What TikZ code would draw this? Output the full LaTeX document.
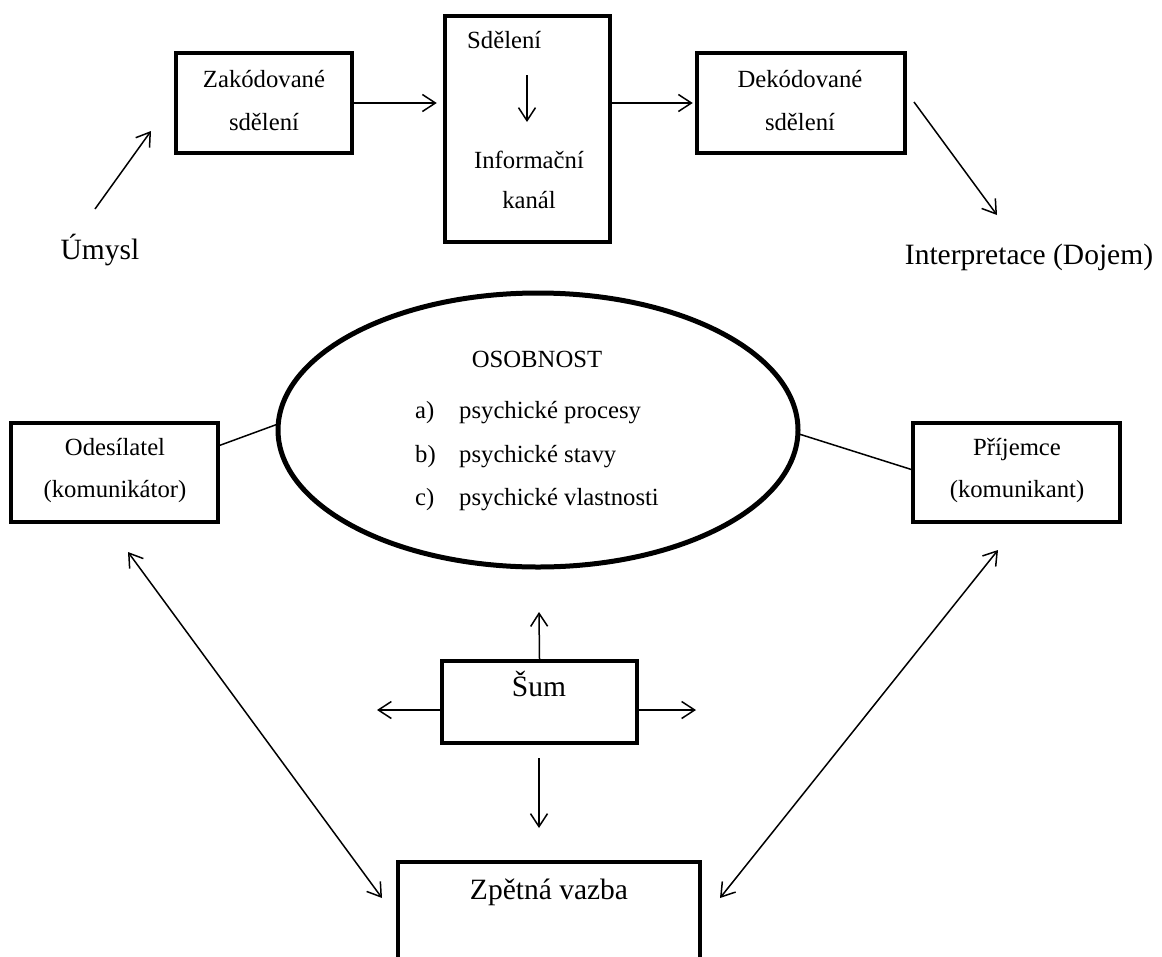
\documentclass[tikz,border=0pt]{standalone}
\usepackage{fontspec}
\setmainfont{Liberation Serif}
\usetikzlibrary{arrows.meta,shapes.geometric,calc}
\begin{document}
\begin{tikzpicture}[x=1pt,y=-1pt,
  box/.style={draw,line width=4.5pt,rectangle,inner sep=0pt,anchor=center},
  oval/.style={draw,line width=5pt,ellipse,inner sep=0pt,anchor=center},
  sm/.style={font=\fontsize{24.7}{30}\selectfont,inner sep=0pt,text height=17pt,text depth=6pt},
  bg/.style={font=\fontsize{29.5}{36}\selectfont,inner sep=0pt,text height=20pt,text depth=7pt},
  tip/.style={Straight Barb[length=13pt,width=17pt]},
  arr/.style={line width=1.5pt,-{Straight Barb[length=13pt,width=17pt]}},
  darr/.style={line width=1.5pt,{Straight Barb[length=13pt,width=17pt]}-{Straight Barb[length=13pt,width=17pt]}},
  ln/.style={line width=1.5pt}]
\useasboundingbox (0,0) rectangle (1162,956);
\clip (0,0) rectangle (1162,956);
\fill[white] (0,0) rectangle (1162,956);

% top row
\node[box,minimum width=176pt,minimum height=100pt] (zak) at (264,103) {};
\node[sm] (zak1) at (264,82) {Zakódované};
\node[sm] (zak2) at (264,125) {sdělení};

\node[box,minimum width=165pt,minimum height=226pt] (sd) at (527.5,129) {};
\node[sm,anchor=west] (sd1) at (467,43) {Sdělení};
\node[sm] (sd2) at (529,163) {Informační};
\node[sm] (sd3) at (529,203) {kanál};
\coordinate (sdA) at (527,75);
\coordinate (sdB) at (527,122);

\node[box,minimum width=208pt,minimum height=100pt] (dek) at (801,103) {};
\node[sm] (dek1) at (800,82) {Dekódované};
\node[sm] (dek2) at (800,125) {sdělení};

\node[bg] (umysl) at (100,253) {Úmysl};
\node[bg] (interp) at (1029,258) {Interpretace (Dojem)};

\coordinate (uA) at (95,209);
\coordinate (uB) at (151,131);
\coordinate (iA) at (914,102);
\coordinate (iB) at (997,215);

% middle
\node[oval,minimum width=520pt,minimum height=274pt] (os) at (538,430) {};
\node[sm] (os0) at (537,362) {OSOBNOST};
\node[sm,anchor=west] (osa) at (415,413) {a)};
\node[sm,anchor=west] (osa2) at (459,413) {psychické procesy};
\node[sm,anchor=west] (osb) at (415,457) {b)};
\node[sm,anchor=west] (osb2) at (459,457) {psychické stavy};
\node[sm,anchor=west] (osc) at (415,500) {c)};
\node[sm,anchor=west] (osc2) at (459,500) {psychické vlastnosti};

\node[box,minimum width=207pt,minimum height=99pt] (od) at (114.5,472.5) {};
\node[sm] (od1) at (115,450) {Odesílatel};
\node[sm] (od2) at (115,492) {(komunikátor)};

\node[box,minimum width=207pt,minimum height=99pt] (pr) at (1016.5,472.5) {};
\node[sm] (pr1) at (1017,450) {Příjemce};
\node[sm] (pr2) at (1017,492) {(komunikant)};

\coordinate (odL) at (218,446);
\coordinate (osL) at (278,424);
\coordinate (osR) at (799,434);
\coordinate (prL) at (913,470);

% bottom
\node[box,minimum width=195pt,minimum height=82pt] (sum) at (539.5,702) {};
\node[bg] (sum1) at (539,690) {Šum};
\coordinate (sumU) at (539,612);
\coordinate (sumL) at (377,710);
\coordinate (sumR) at (696,710);
\coordinate (sumD1) at (539,758);
\coordinate (sumD2) at (539,828);

\node[box,minimum width=302pt,minimum height=120pt] (zv) at (549,922) {};
\node[bg] (zv1) at (549,893) {Zpětná vazba};

\coordinate (lA) at (128,552);
\coordinate (lB) at (382,898);
\coordinate (rA) at (998,550);
\coordinate (rB) at (720,898);

% connectors
\draw[arr] (uA) -- (uB);
\draw[arr] (zak.east) -- ($(sd.west |- zak.east)+(-6,0)$);
\draw[arr] (sdA) -- (sdB);
\draw[arr] (sd.east |- dek.west) -- ($(dek.west)+(-2,0)$);
\draw[arr] (iA) -- (iB);

\draw[ln] (odL) -- (osL);
\draw[ln] (osR) -- (prL);

\draw[arr] (sum.north) -- (sumU);
\draw[arr] (sum.west |- sumL) -- (sumL);
\draw[arr] (sum.east |- sumR) -- (sumR);
\draw[arr] (sumD1) -- (sumD2);

\draw[darr] (lA) -- (lB);
\draw[darr] (rA) -- (rB);
\end{tikzpicture}
\end{document}
